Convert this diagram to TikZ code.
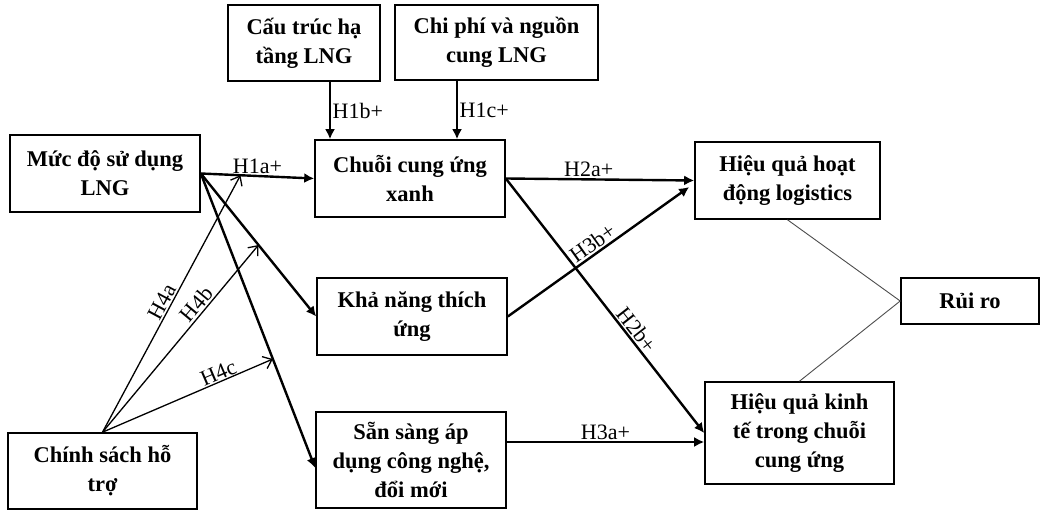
\documentclass[tikz,border=0pt]{standalone}
\usepackage{fontspec}
\setmainfont{Liberation Serif}
\usetikzlibrary{arrows.meta,calc}

\begin{document}
\begin{tikzpicture}[x=1pt,y=-1pt,
  box/.style={draw,line width=1.6pt,align=center,inner sep=0pt,
    font=\fontsize{22.5}{29}\selectfont\bfseries},
  arr/.style={line width=2.4pt,-{Latex[length=10pt,width=10pt]}},
  arrt/.style={line width=1.3pt,-{Straight Barb[length=8pt,width=13pt,line width=1.3pt]}},
  lbl/.style={font=\fontsize{22}{24}\selectfont,inner sep=1.5pt},
  link/.style={black!70,line width=0.9pt}]
 \useasboundingbox (0,0) rectangle (1041,510);
% boxes
 \node[box,minimum width=190,minimum height=77] (use) at (105,173.5) {Mức độ sử dụng\\LNG};
 \node[box,minimum width=189,minimum height=76] (chinh) at (102.5,471) {Chính sách hỗ\\trợ};
 \node[box,minimum width=152,minimum height=76] (hatang) at (304,43) {Cấu trúc hạ\\tầng LNG};
 \node[box,minimum width=203,minimum height=75] (chiphi) at (496.5,42.5) {Chi phí và nguồn\\cung LNG};
 \node[box,minimum width=190,minimum height=77] (xanh) at (410,178.5) {Chuỗi cung ứng\\xanh};
 \node[box,minimum width=190,minimum height=77] (thichung) at (412,316.5) {Khả năng thích\\ứng};
 \node[box,minimum width=190,minimum height=96] (congnghe) at (411,460) {Sẵn sàng áp\\dụng công nghệ,\\đổi mới};
 \node[box,minimum width=185,minimum height=77] (logistics) at (787.5,180.5) {Hiệu quả hoạt\\động logistics};
 \node[box,minimum width=189,minimum height=102] (kinhte) at (799.5,433) {Hiệu quả kinh\\tế trong chuỗi\\cung ứng};
 \node[box,minimum width=138,minimum height=46] (ruiro) at (970,301) {Rủi ro};
% H1
 \draw[arr] (use.east) -- node[lbl,above]{H1a+} (xanh.west);
 \draw[arr] ([xshift=26pt]hatang.south) -- node[lbl,right]{H1b+} ([xshift=-80pt]xanh.north);
 \draw[arr] ([xshift=-39.5pt]chiphi.south) -- node[lbl,right]{H1c+} ([xshift=47pt]xanh.north);
 \draw[arr] (use.east) -- (thichung.west);
 \draw[arr] (use.east) -- ([yshift=-8pt]congnghe.west);
% H2, H3
 \draw[arr] (xanh.east) -- node[lbl,above,pos=0.44]{H2a+} (logistics.west);
 \draw[arr] (xanh.east) -- node[lbl,above,sloped,pos=0.62]{H2b+} (kinhte.west);
 \draw[arr] (thichung.east) -- node[lbl,above,sloped]{H3b+} ([xshift=-5pt,yshift=-6.5pt]logistics.west);
 \coordinate (c3a) at ([yshift=18pt]congnghe.east);
 \draw[arr] (c3a) -- node[lbl,above]{H3a+} (c3a -| kinhte.west);
% H4: chinh sach toi cac duong
 \coordinate (t4a) at ($(use.east)!0.35!(xanh.west)$);
 \coordinate (t4b) at ($(use.east)!0.5!(thichung.west)$);
 \coordinate (t4c) at ($(use.east)!0.63!([yshift=-8pt]congnghe.west)$);
 \draw[arrt] (chinh.north) -- node[lbl,above,sloped,pos=0.49]{H4a} (t4a);
 \draw[arrt] (chinh.north) -- node[lbl,above,sloped,pos=0.65]{H4b} (t4b);
 \draw[arrt] (chinh.north) -- node[lbl,above,sloped,pos=0.7,inner sep=0.5pt]{H4c} (t4c);
% rui ro
 \draw[link] (logistics.south) -- (ruiro.west) -- (kinhte.north);
\end{tikzpicture}
\end{document}
